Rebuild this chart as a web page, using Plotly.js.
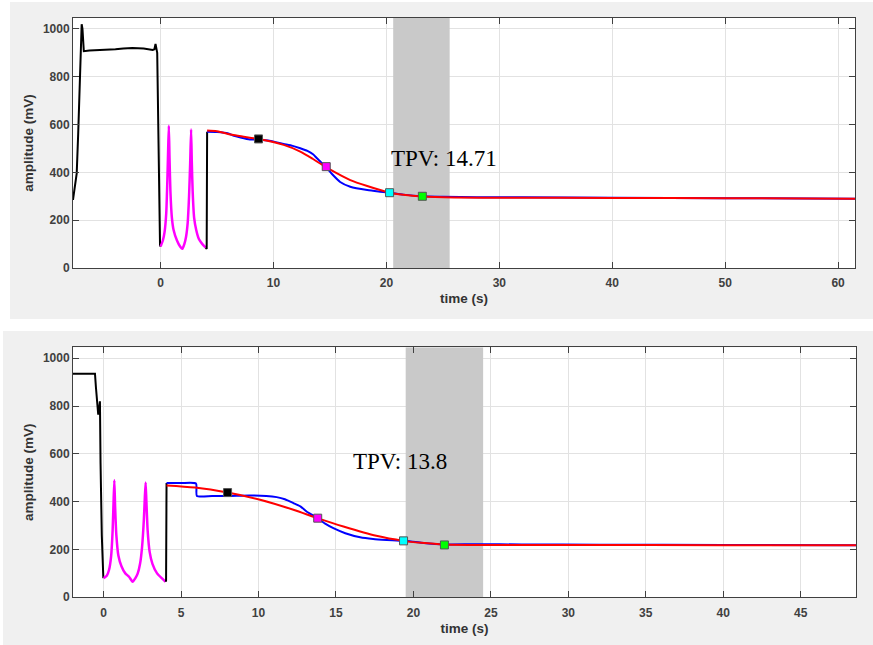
<!DOCTYPE html>
<html>
<head>
<meta charset="utf-8">
<script src="https://cdn.plot.ly/plotly-3.0.1.min.js"></script>
<style>
  html, body { margin: 0; padding: 0; background: #ffffff; }
  #chart { width: 873px; height: 645px; }
</style>
</head>
<body>
<div id="chart"></div>
<script>
// ---------------- Top panel data ----------------
const topPreT   = [-7.76, -7.6, -7.43, -7.3, -7.15, -7.05, -6.99, -6.92, -6.8, -6.3, -5, -4, -3.3, -2.5, -1.5, -0.7, -0.55, -0.45, -0.3, -0.17, -0.05];
const topPreV   = [285, 330, 396, 560, 800, 960, 1020, 1000, 907, 910, 912, 915, 918, 920, 918, 912, 915, 937, 900, 400, 90];
const topPulseT = [0, 0.2, 0.35, 0.5, 0.6, 0.67, 0.73, 0.79, 0.87, 1.0, 1.15, 1.45, 1.74, 1.93, 2.1, 2.25, 2.4, 2.52, 2.62, 2.7, 2.76, 2.84, 2.97, 3.15, 3.4, 3.7, 4.0];
const topPulseV = [90, 115, 150, 230, 370, 500, 595, 460, 320, 210, 159, 115, 89, 80, 100, 130, 190, 300, 440, 580, 450, 320, 210, 160, 120, 100, 85];
const topRiseT  = [4.0, 4.08, 4.12];
const topRiseV  = [85, 80, 570];
const topBlueT  = [4.12, 5, 6, 6.5, 7, 7.9, 8.67, 9.5, 10.9, 11.7, 12.37, 13, 13.5, 13.85, 14.2, 14.67, 15.2, 15.9, 16.8, 18.3, 19.3, 20.28, 21.5, 23.18, 25, 28, 32, 40, 50, 61.5];
const topBlueV  = [570, 569, 563, 553, 547, 538, 538, 533, 519, 511, 501, 490, 476, 459, 443, 421, 392, 360, 340, 326, 320, 315, 307, 300, 298, 296, 296, 294, 292, 290];
const topRedT   = [4.12, 5, 6.45, 8.67, 10.9, 12.37, 13.5, 14.67, 15.8, 16.8, 18.3, 20.28, 21.5, 23.18, 26, 30, 40, 50, 61.5];
const topRedV   = [575, 572, 556, 540, 515, 487, 456, 421, 392, 368, 343, 315, 306, 299, 295, 294, 293, 292, 290];
const topMarkT  = [8.67, 14.67, 20.28, 23.18];
const topMarkV  = [540, 424, 315, 300];
const topBand   = [20.6, 25.6];
const topTPV    = "TPV: 14.71";

// ---------------- Bottom panel data ----------------
const botPreT   = [-2.0, -1.0, -0.56, -0.5, -0.42, -0.35, -0.3, -0.24, -0.2, -0.12, -0.02];
const botPreV   = [935, 935, 935, 880, 790, 764, 780, 820, 560, 260, 80];
const botPulseT = [0, 0.2, 0.35, 0.48, 0.58, 0.64, 0.69, 0.74, 0.82, 0.95, 1.15, 1.4, 1.65, 1.87, 2.05, 2.2, 2.35, 2.48, 2.6, 2.66, 2.71, 2.76, 2.84, 2.97, 3.15, 3.45, 3.75, 4.0];
const botPulseV = [80, 90, 115, 170, 280, 400, 490, 380, 260, 175, 130, 100, 85, 65, 80, 100, 140, 210, 330, 420, 480, 400, 280, 190, 140, 100, 80, 65];
const botRiseT  = [4.0, 4.03, 4.06];
const botRiseV  = [65, 70, 478];
const botBlueT  = [4.06, 5, 5.96, 6.02, 7, 8, 9.4, 10.5, 11.17, 11.7, 12.25, 12.7, 13.1, 13.5, 13.8, 14.3, 14.83, 15.6, 16.56, 17.4, 18.28, 19.36, 20.5, 22, 24, 27, 32, 40, 48.6];
const botBlueV  = [478, 478, 476, 424, 424, 424, 426, 424, 419, 410, 394, 380, 359, 343, 331, 308, 289, 268, 251, 244, 240, 236, 228, 221, 222, 221, 220, 219, 218];
const botRedT   = [4.06, 5.9, 8.0, 10.1, 12.25, 13.8, 15.48, 17.6, 19.36, 20.5, 22, 25, 30, 40, 48.6];
const botRedV   = [468, 459, 438, 408, 366, 331, 296, 257, 236, 228, 221, 219, 219, 218, 218];
const botMarkT  = [8.0, 13.82, 19.36, 22.0];
const botMarkV  = [438, 331, 236, 219];
const botBand   = [19.5, 24.5];
const botTPV    = "TPV: 13.8";

const markColors = ['#000000', '#ff00ff', '#00ffff', '#00ff00'];
const yTicks = [0, 200, 400, 600, 800, 1000];
const yMax = 1046;

function bandTrace(xa, ya, band) {
  return {x: [band[0], band[1], band[1], band[0], band[0]], y: [0, 0, yMax, yMax, 0],
          xaxis: xa, yaxis: ya, mode: 'lines', fill: 'toself', fillcolor: '#c9c9c9',
          line: {width: 0, color: 'rgba(0,0,0,0)'}, hoverinfo: 'skip'};
}

function panelTraces(xa, ya, band, preT, preV, pulseT, pulseV, riseT, riseV, blueT, blueV, redT, redV, markT, markV) {
  return [
    bandTrace(xa, ya, band),
    {x: preT, y: preV, xaxis: xa, yaxis: ya, mode: 'lines', line: {color: '#000000', width: 2}},
    {x: pulseT, y: pulseV, xaxis: xa, yaxis: ya, mode: 'lines', line: {color: '#ff00ff', width: 2.5, shape: 'spline', smoothing: 0.5}},
    {x: riseT, y: riseV, xaxis: xa, yaxis: ya, mode: 'lines', line: {color: '#000000', width: 2}},
    {x: blueT, y: blueV, xaxis: xa, yaxis: ya, mode: 'lines', line: {color: '#0000ff', width: 2, shape: 'spline', smoothing: 0.6}},
    {x: redT, y: redV, xaxis: xa, yaxis: ya, mode: 'lines', line: {color: '#ff0000', width: 2, shape: 'spline', smoothing: 0.8}},
    {x: markT, y: markV, xaxis: xa, yaxis: ya, mode: 'markers',
     marker: {symbol: 'square', size: 8, color: markColors, line: {color: '#555555', width: 1}}}
  ];
}

const traces = []
  .concat(panelTraces('x', 'y', topBand, topPreT, topPreV, topPulseT, topPulseV, topRiseT, topRiseV, topBlueT, topBlueV, topRedT, topRedV, topMarkT, topMarkV))
  .concat(panelTraces('x2', 'y2', botBand, botPreT, botPreV, botPulseT, botPulseV, botRiseT, botRiseV, botBlueT, botBlueV, botRedT, botRedV, botMarkT, botMarkV));

const axisFont = {family: 'Liberation Sans, Arial, sans-serif', size: 12, color: '#404040', weight: 'bold'};
const titleFont = {family: 'Liberation Sans, Arial, sans-serif', size: 13.5, color: '#333333', weight: 'bold'};

function xAxis(domain, range, dtick, anchor) {
  return {
    domain: domain, range: range, dtick: dtick, anchor: anchor,
    showgrid: true, gridcolor: '#e2e2e2', gridwidth: 1, zeroline: false,
    showline: true, linecolor: '#404040', linewidth: 1, mirror: 'ticks',
    ticks: 'inside', ticklen: 6, tickcolor: '#404040', tickwidth: 1,
    tickfont: axisFont, ticklabelstandoff: 4,
    title: {text: 'time (s)', font: titleFont, standoff: 4}
  };
}
function yAxis(domain, anchor) {
  return {
    domain: domain, range: [0, yMax], tickvals: yTicks, anchor: anchor,
    showgrid: true, gridcolor: '#e2e2e2', gridwidth: 1, zeroline: false,
    showline: true, linecolor: '#404040', linewidth: 1, mirror: 'ticks',
    ticks: 'inside', ticklen: 6, tickcolor: '#404040', tickwidth: 1,
    tickfont: axisFont,
    title: {text: 'amplitude (mV)', font: titleFont, standoff: 6}
  };
}

const layout = {
  width: 873, height: 645,
  margin: {l: 0, r: 0, t: 0, b: 0},
  paper_bgcolor: '#ffffff',
  plot_bgcolor: 'rgba(0,0,0,0)',
  showlegend: false,
  xaxis: xAxis([0.0836, 0.9794], [-7.76, 61.5], 10, 'y'),
  yaxis: yAxis([0.5845, 0.9721], 'x'),
  xaxis2: xAxis([0.0836, 0.9805], [-1.98, 48.57], 5, 'y2'),
  yaxis2: yAxis([0.0740, 0.4616], 'x2'),
  shapes: [
    {type: 'rect', xref: 'paper', yref: 'paper', x0: 10/873, x1: 1, y0: 1 - 319/645, y1: 1 - 2/645,
     fillcolor: '#f0f0f0', line: {width: 0}, layer: 'below'},
    {type: 'rect', xref: 'paper', yref: 'paper', x0: 3/873, x1: 1, y0: 0, y1: 1 - 331/645,
     fillcolor: '#f0f0f0', line: {width: 0}, layer: 'below'},
    {type: 'rect', xref: 'x domain', yref: 'y domain', x0: 0, x1: 1, y0: 0, y1: 1,
     fillcolor: '#ffffff', line: {width: 0}, layer: 'below'},
    {type: 'rect', xref: 'x2 domain', yref: 'y2 domain', x0: 0, x1: 1, y0: 0, y1: 1,
     fillcolor: '#ffffff', line: {width: 0}, layer: 'below'}
  ],
  annotations: [
    {xref: 'x', yref: 'y', x: 20.2, y: 460, text: topTPV, showarrow: false, xanchor: 'left', yanchor: 'middle',
     font: {family: 'Liberation Serif, Times New Roman, serif', size: 23, color: '#000000'}},
    {xref: 'x2', yref: 'y2', x: 16.0, y: 568, text: botTPV, showarrow: false, xanchor: 'left', yanchor: 'middle',
     font: {family: 'Liberation Serif, Times New Roman, serif', size: 23, color: '#000000'}}
  ]
};

Plotly.newPlot('chart', traces, layout, {displayModeBar: false, staticPlot: true});
</script>
</body>
</html>
